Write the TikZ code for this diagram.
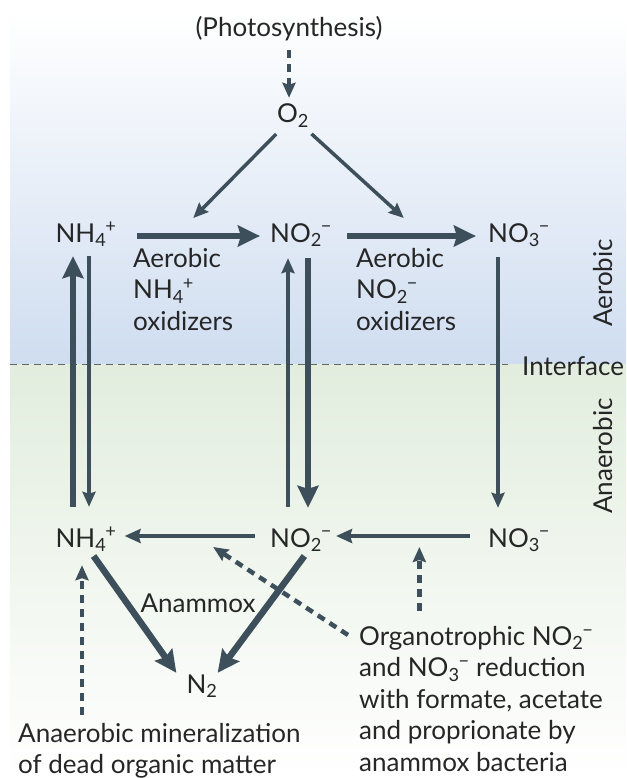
\documentclass[tikz,border=0pt]{standalone}
\usepackage{fontspec}
\setmainfont{Lato}
\usetikzlibrary{arrows.meta}
\definecolor{arrowslate}{RGB}{61,79,90}
\definecolor{aerobicblue}{RGB}{207,221,240}
\definecolor{anaerobicgreen}{RGB}{226,237,222}
\definecolor{textgrey}{RGB}{38,38,38}
\newcommand{\ion}[3]{#1\textsubscript{#2}\kern-0.04em\textsuperscript{#3}}

\begin{document}
\begin{tikzpicture}[x=1pt, y=-1pt,
    every node/.style={font=\fontsize{26}{31.5}\selectfont, text=textgrey, inner sep=0pt},
    species/.style={anchor=base, text height=20pt, text depth=8pt},
    notetext/.style={anchor=north west, align=left},
    thinarrow/.style={draw=arrowslate, line width=3.5pt, -{Stealth[length=15pt, width=13pt, inset=2pt]}},
    medarrow/.style={draw=arrowslate, line width=4pt, -{Stealth[length=16pt, width=14pt, inset=2pt]}},
    thickarrow/.style={draw=arrowslate, line width=6.5pt, -{Stealth[length=22pt, width=21pt, inset=3pt]}},
    dasharrow/.style={draw=arrowslate, line width=4.5pt, dash pattern=on 8pt off 6pt, -{Stealth[length=15pt, width=13pt, inset=2pt]}}]
    \useasboundingbox (0,0) rectangle (626,778);
    % Background
    \fill[white] (0,0) rectangle (626,778);
    \shade[top color=white, bottom color=aerobicblue] (10,12) rectangle (626,364);
    \shade[top color=anaerobicgreen, bottom color=white] (10,364) rectangle (626,778);

    % Species
    \node[species] (photo) at (289,37) {(Photosynthesis)};
    \node[species] (o2) at (293,123) {O\textsubscript{2}};
    \node[species] (nh4a) at (86,242) {\ion{NH}{4}{+}};
    \node[species] (no2a) at (301,242) {\ion{NO}{2}{−}};
    \node[species] (no3a) at (519,242) {\ion{NO}{3}{−}};
    \node[species] (nh4b) at (86,547) {\ion{NH}{4}{+}};
    \node[species] (no2b) at (301,547) {\ion{NO}{2}{−}};
    \node[species] (no3b) at (519,547) {\ion{NO}{3}{−}};
    \node[species] (n2) at (202,693) {N\textsubscript{2}};

    % Labels
    \node[notetext] (nh4ox) at (133,248) {Aerobic\\\ion{NH}{4}{+}\\oxidizers};
    \node[notetext] (no2ox) at (356,248) {Aerobic\\\ion{NO}{2}{−}\\oxidizers};
    \node[anchor=base] (anammox) at (198,612) {Anammox};
    \node[notetext] (mineral) at (18,723) {Anaerobic mineralization\\of dead organic matter};
    \node[notetext] (organo) at (359,626) {Organotrophic \ion{NO}{2}{−}\\and \ion{NO}{3}{−} reduction\\with formate, acetate\\and proprionate by\\anammox bacteria};
    \node[rotate=90] (aerobic) at (603,283) {Aerobic};
    \node[rotate=90] (anaerobic) at (603,456) {Anaerobic};

    % Interface
    \node[anchor=base west] (interface) at (522,375) {Interface};
    \coordinate (ifleft) at (10,364);
    \draw[black!60, line width=1pt, dash pattern=on 7pt off 5pt, shorten >=14pt] (ifleft) -- (ifleft -| interface.west);

    % Aerobic oxidation
    \draw[thickarrow, shorten <=20pt, shorten >=10pt] (nh4a.east) -- (nh4a.east -| no2a.west) coordinate[midway, yshift=18pt] (ina);
    \draw[thickarrow, shorten <=15pt, shorten >=12pt] (no2a.east) -- (no2a.east -| no3a.west) coordinate[pos=0.46, yshift=18pt] (inb);
    \draw[dasharrow, shorten <=5pt, shorten >=5pt] (photo.south) -- (photo.south |- o2.north);
    \draw[thinarrow, shorten <=4pt] (o2) -- (ina);
    \draw[thinarrow, shorten <=4pt] (o2) -- (inb);

    % Exchange across the interface
    \draw[thickarrow, shorten <=20pt, shorten >=6pt] ([xshift=-13pt]nh4b.north) -- ([xshift=-13pt]nh4a.south);
    \draw[thinarrow, shorten <=6pt, shorten >=20pt] ([xshift=3pt]nh4a.south) -- ([xshift=3pt]nh4b.north);
    \draw[thinarrow, shorten <=20pt, shorten >=8pt] ([xshift=-13pt]no2b.north) -- ([xshift=-13pt]no2a.south);
    \draw[thickarrow, shorten <=8pt, shorten >=19pt] ([xshift=7pt]no2a.south) -- ([xshift=7pt]no2b.north);
    \draw[thinarrow, shorten <=7pt, shorten >=19pt] ([xshift=-21pt]no3a.south) -- ([xshift=-21pt]no3b.north);

    % Anaerobic reduction
    \draw[medarrow, shorten <=15pt, shorten >=8pt] ([yshift=5pt]no2b.west) -- ([yshift=5pt]no2b.west -| nh4b.east) coordinate[pos=0.37, yshift=-11pt] (nh4in);
    \draw[medarrow, shorten <=18pt, shorten >=4pt] ([yshift=5pt]no3b.west) -- ([yshift=5pt]no3b.west -| no2b.east) coordinate[pos=0.44, yshift=-11pt] (no2in);
    \draw[thickarrow, shorten <=1pt] ([xshift=7pt]nh4b.south) -- ([xshift=-10pt]n2.north west);
    \draw[thickarrow, shorten <=1pt] ([xshift=4pt]no2b.south) -- (n2.north east);
    \coordinate (nh4min) at ([xshift=-4pt]nh4b.south);
    \draw[dasharrow, shorten <=8pt, shorten >=10pt] (mineral.north -| nh4min) -- (nh4min);
    \draw[dasharrow, shorten <=15pt] (organo.north west -| no2in) -- (no2in);
    \draw[dasharrow] ([xshift=-11pt, yshift=-9pt]organo.north west) -- (nh4in);
\end{tikzpicture}
\end{document}
